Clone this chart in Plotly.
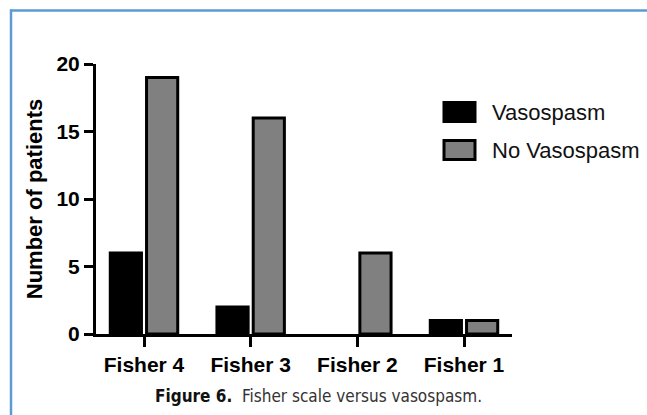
import plotly.graph_objects as go

categories = ["Fisher 4", "Fisher 3", "Fisher 2", "Fisher 1"]
vasospasm = [6, 2, 0, 1]
no_vasospasm = [19, 16, 6, 1]
series_names = ["Vasospasm", "No Vasospasm"]
series_colors = ["#000000", "#808080"]
y_ticks = [0, 5, 10, 15, 20]
caption_bold = "Figure 6."
caption_text = "Fisher scale versus vasospasm."
y_title = "Number of patients"

W, H = 647, 415
L, R, T, B = 96, 135, 64, 81
PW, PH = W - L - R, H - T - B


def px(x):
    return (x - L) / PW


def py(y):
    return (H - B - y) / PH


FONT = "Arial, Liberation Sans, Helvetica, sans-serif"

fig = go.Figure()
for name, vals, col in zip(series_names, [vasospasm, no_vasospasm], series_colors):
    fig.add_trace(go.Bar(
        x=categories, y=vals, name=name,
        marker=dict(color=col, line=dict(color="#000000",
                                         width=[3 if v > 0 else 0 for v in vals])),
        showlegend=False,
    ))

shapes = []
annotations = []
# manual legend
leg_y = [112, 150]
for i, (name, col) in enumerate(zip(series_names, series_colors)):
    yc = leg_y[i]
    shapes.append(dict(type="rect", xref="paper", yref="paper",
                       x0=px(444), x1=px(475), y0=py(yc + 9.5), y1=py(yc - 9.5),
                       fillcolor=col, line=dict(color="#000000", width=3)))
    annotations.append(dict(xref="paper", yref="paper", x=px(490), y=py(yc),
                            xanchor="left", yanchor="middle", showarrow=False,
                            text=name, font=dict(family=FONT, size=22, color="#111111")))

# blue frame (top and left edges)
frame = "#5b9bd5"
shapes.append(dict(type="line", xref="paper", yref="paper",
                   x0=px(10), x1=px(648), y0=py(10.5), y1=py(10.5),
                   line=dict(color=frame, width=2.5)))
shapes.append(dict(type="line", xref="paper", yref="paper",
                   x0=px(11), x1=px(11), y0=py(9.5), y1=py(416),
                   line=dict(color=frame, width=2.5)))

annotations.append(dict(xref="paper", yref="paper", x=px(318), y=py(396),
                        xanchor="center", yanchor="middle", showarrow=False,
                        text=f"<b>{caption_bold}</b>  <span style='color:#333333'>{caption_text}</span>",
                        font=dict(family="Liberation Sans Narrow, DejaVu Sans Condensed, Arial Narrow, sans-serif",
                                  size=17, color="#111111")))

fig.update_layout(
    width=W, height=H,
    margin=dict(l=L, r=R, t=T, b=B),
    paper_bgcolor="white", plot_bgcolor="white",
    barmode="group", bargap=0.32, bargroupgap=0.14,
    shapes=shapes, annotations=annotations,
    font=dict(family=FONT, color="#000000"),
    xaxis=dict(
        type="category", range=[-0.45, 3.45],
        showline=True, linewidth=3, linecolor="#000000",
        ticks="outside", ticklen=10, tickwidth=3, tickcolor="#000000",
        tickfont=dict(family=FONT, size=21, weight="bold", color="#000000"),
        showgrid=False, zeroline=False,
    ),
    yaxis=dict(
        range=[0, 20], tickvals=y_ticks,
        showline=True, linewidth=3, linecolor="#000000",
        ticks="outside", ticklen=9, tickwidth=3, tickcolor="#000000",
        tickfont=dict(family=FONT, size=21, weight="bold", color="#000000"),
        showgrid=False, zeroline=False,
        title=dict(text=y_title, standoff=8,
                   font=dict(family=FONT, size=22, weight="bold", color="#000000")),
    ),
)

fig.write_html("out.html", config={"displayModeBar": False},
               post_script="document.body.style.margin='0';")
